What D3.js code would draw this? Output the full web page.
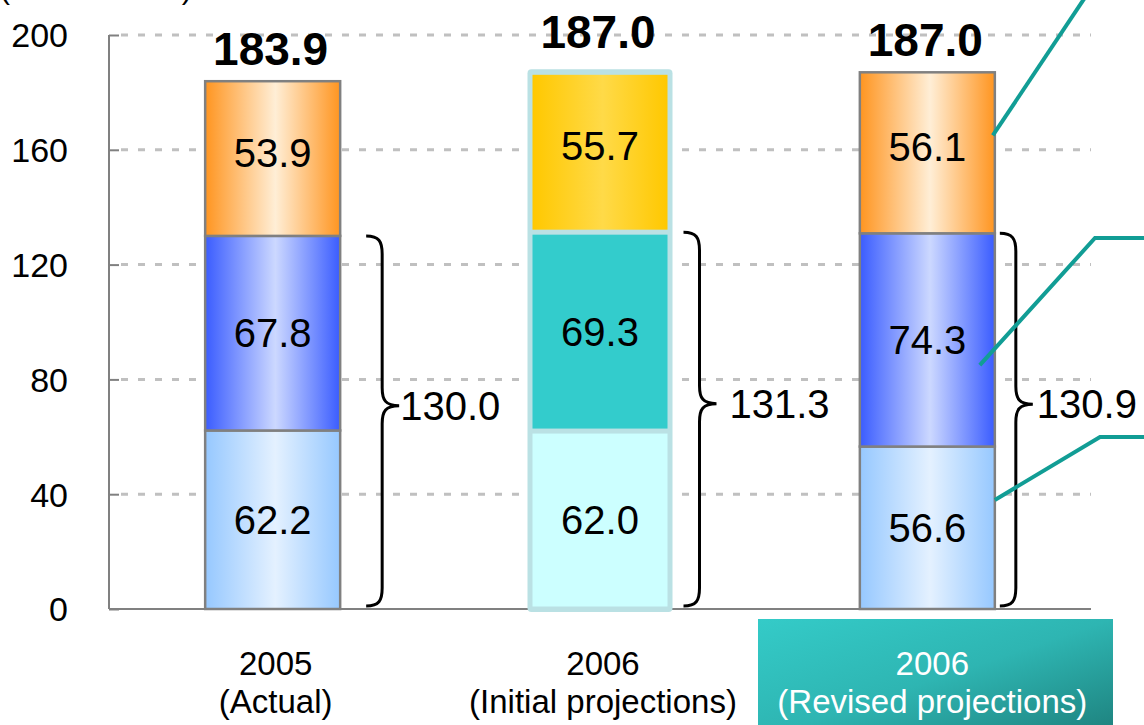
<!DOCTYPE html>
<html lang="en">
<head>
  <meta charset="UTF-8">
  <title>Stacked bars</title>
  <script src="https://d3js.org/d3.v7.min.js"></script>
  <style>
    body { margin: 0; background: #fff; }
    svg { display: block; font-family: "Liberation Sans", Arial, sans-serif; }
  </style>
</head>
<body>
  <div id="chart"></div>
  <script>
    // values
    const catYears = ["2005", "2006", "2006"];
    const catNotes = ["(Actual)", "(Initial projections)", "(Revised projections)"];
    const bottomSeg = [62.2, 62.0, 56.6];
    const middleSeg = [67.8, 69.3, 74.3];
    const topSeg = [53.9, 55.7, 56.1];
    const totals = [183.9, 187.0, 187.0];
    const subtotals = [130.0, 131.3, 130.9];
    const yTicks = [0, 40, 80, 120, 160, 200];
    // where the callout lines touch the third bar (in data units)
    const calloutVals = [165, 85, 38];

    const width = 1144, height = 725;
    const x0 = 109, x1 = 1091, yBase = 609, yTopPx = 35;
    const barW = 135;

    const svg = d3.select("#chart").append("svg")
      .attr("width", width)
      .attr("height", height);

    const y = d3.scaleLinear().domain([0, 200]).range([yBase, yTopPx]);
    const x = d3.scalePoint().domain(d3.range(3)).range([x0, x1]).padding(0.5);

    // gradients
    const defs = svg.append("defs");
    function hGrad(id, edge, mid) {
      const g = defs.append("linearGradient").attr("id", id)
        .attr("x1", 0).attr("y1", 0).attr("x2", 1).attr("y2", 0);
      g.append("stop").attr("offset", 0).attr("stop-color", edge);
      g.append("stop").attr("offset", 0.52).attr("stop-color", mid);
      g.append("stop").attr("offset", 1).attr("stop-color", edge);
    }
    hGrad("gOrange", "#ff9520", "#ffeed6");
    hGrad("gBlue", "#3a5cff", "#ccd8ff");
    hGrad("gLight", "#96c8ff", "#e4f1ff");
    hGrad("gYellow", "#ffc800", "#ffda48");
    const tg = defs.append("linearGradient").attr("id", "gTeal")
      .attr("x1", 0).attr("y1", 0).attr("x2", 1).attr("y2", 1);
    tg.append("stop").attr("offset", 0).attr("stop-color", "#34cbc8");
    tg.append("stop").attr("offset", 0.5).attr("stop-color", "#2eb5b2");
    tg.append("stop").attr("offset", 1).attr("stop-color", "#1d7f7b");

    // unit label, mostly cut off at the top edge like in the source
    svg.append("text")
      .attr("x", 0).attr("y", -1)
      .style("font-size", "30px")
      .text("(Unit: billion ¥)");

    // gridlines
    svg.append("g").selectAll("line")
      .data(yTicks.filter(d => d > 0))
      .join("line")
      .attr("x1", x0 + 12).attr("x2", x1)
      .attr("y1", d => y(d)).attr("y2", d => y(d))
      .attr("stroke", "#c0c0c0")
      .attr("stroke-width", 3)
      .attr("stroke-dasharray", "7,10");

    // y axis
    const yAxis = svg.append("g")
      .attr("transform", `translate(${x0},0)`)
      .call(d3.axisRight(y).tickValues(yTicks).tickSize(10).tickFormat(d => d));
    yAxis.select(".domain").remove();
    yAxis.selectAll(".tick line").attr("stroke", "#808080").attr("stroke-width", 2);
    yAxis.selectAll(".tick text")
      .attr("x", -41).attr("text-anchor", "end")
      .attr("dy", "0.35em")
      .style("font-size", "34px")
      .style("font-family", "Liberation Sans, Arial, sans-serif")
      .attr("fill", "#000");
    svg.append("line")
      .attr("x1", x0).attr("x2", x0).attr("y1", y(200)).attr("y2", yBase)
      .attr("stroke", "#808080").attr("stroke-width", 2);
    svg.append("line")
      .attr("x1", x0).attr("x2", x1).attr("y1", yBase).attr("y2", yBase)
      .attr("stroke", "#808080").attr("stroke-width", 2);

    // segments
    const fills = [
      ["url(#gLight)", "url(#gBlue)", "url(#gOrange)"],
      ["#ccffff", "#33cccc", "url(#gYellow)"],
      ["url(#gLight)", "url(#gBlue)", "url(#gOrange)"]
    ];
    const segs = [];
    d3.range(3).forEach(i => {
      const vals = [bottomSeg[i], middleSeg[i], topSeg[i]];
      let acc = 0;
      vals.forEach((v, k) => {
        segs.push({ bar: i, k: k, v: v, y0: acc, y1: acc + v });
        acc += v;
      });
    });

    // frame for the initial-projection bar
    svg.append("rect")
      .attr("x", x(1) - barW / 2 - 5)
      .attr("y", y(totals[1]) - 3)
      .attr("width", barW + 10)
      .attr("height", yBase - y(totals[1]) + 6)
      .attr("rx", 4)
      .attr("fill", "#bae1e4");

    svg.append("g").selectAll("rect")
      .data(segs)
      .join("rect")
      .attr("x", d => x(d.bar) - barW / 2)
      .attr("width", barW)
      .attr("y", d => y(d.y1) + (d.bar === 1 ? 2.5 : 0))
      .attr("height", d => y(d.y0) - y(d.y1) - (d.bar === 1 ? 5 : 0))
      .attr("fill", d => fills[d.bar][d.k])
      .attr("stroke", d => d.bar === 1 ? "none" : "#808080")
      .attr("stroke-width", 2.5);

    svg.append("g").selectAll("text")
      .data(segs)
      .join("text")
      .attr("x", d => x(d.bar))
      .attr("y", d => (y(d.y0) + y(d.y1)) / 2 - (d.k === 2 ? 6 : 0))
      .attr("dy", "0.35em")
      .attr("text-anchor", "middle")
      .style("font-size", "40px")
      .text(d => d.v.toFixed(1));

    // totals
    svg.append("g").selectAll("text")
      .data(totals)
      .join("text")
      .attr("x", (d, i) => x(i) - 2)
      .attr("y", (d, i) => y(d) - (i === 1 ? 24 : 16))
      .attr("text-anchor", "middle")
      .style("font-size", "46px")
      .style("font-weight", "bold")
      .text(d => d.toFixed(1));

    // braces around the lower two segments
    const braceGap = [26, 16, 5];     // from bar edge to brace end
    const labelGap = [1, 13, 4];      // from brace tip to label
    function bracePath(xe, yT, yB, yTip, w1, w2) {
      const xv = xe + w1, xt = xe + w2, r = 18;
      return `M${xe},${yT} C${xe + w1 * 0.8},${yT} ${xv},${yT + r * 0.3} ${xv},${yT + r}` +
        ` L${xv},${yTip - r} C${xv},${yTip - r * 0.3} ${xv + (xt - xv) * 0.2},${yTip} ${xt},${yTip}` +
        ` C${xv + (xt - xv) * 0.2},${yTip} ${xv},${yTip + r * 0.3} ${xv},${yTip + r}` +
        ` L${xv},${yB - r} C${xv},${yB - r * 0.3} ${xe + w1 * 0.8},${yB} ${xe},${yB}`;
    }
    subtotals.forEach((v, i) => {
      const xe = x(i) + barW / 2 + braceGap[i];
      const yTip = y(v * 0.545);
      svg.append("path")
        .attr("d", bracePath(xe, y(v), y(0) - 3, yTip, 16, 33))
        .attr("fill", "none")
        .attr("stroke", "#000")
        .attr("stroke-width", 3);
      svg.append("text")
        .attr("x", xe + 33 + labelGap[i])
        .attr("y", yTip)
        .attr("dy", "0.35em")
        .style("font-size", "40px")
        .text(v.toFixed(1));
    });

    // callout lines toward labels outside the picture
    const cx = x(2) + barW / 2;
    const callouts = [
      [[cx - 2, y(calloutVals[0])], [1086, -4]],
      [[cx - 15, y(calloutVals[1])], [1095, 238], [1150, 238]],
      [[cx, y(calloutVals[2])], [1100, 437], [1150, 437]]
    ];
    svg.append("g").selectAll("path")
      .data(callouts)
      .join("path")
      .attr("d", d => d3.line()(d))
      .attr("fill", "none")
      .attr("stroke", "#119d95")
      .attr("stroke-width", 4);

    // category labels
    svg.append("rect")
      .attr("x", 758).attr("y", 619)
      .attr("width", 355).attr("height", 120)
      .attr("fill", "url(#gTeal)");

    const cats = svg.append("g").selectAll("text")
      .data(d3.range(3))
      .join("text")
      .attr("text-anchor", "middle")
      .attr("fill", i => i === 2 ? "#fff" : "#000")
      .style("font-size", "33px");
    cats.append("tspan")
      .attr("x", i => x(i) + (i === 2 ? 5 : 3))
      .attr("y", 675)
      .text(i => catYears[i]);
    cats.append("tspan")
      .attr("x", i => x(i) + (i === 2 ? 5 : 3))
      .attr("y", 713)
      .text(i => catNotes[i]);
  </script>
</body>
</html>
